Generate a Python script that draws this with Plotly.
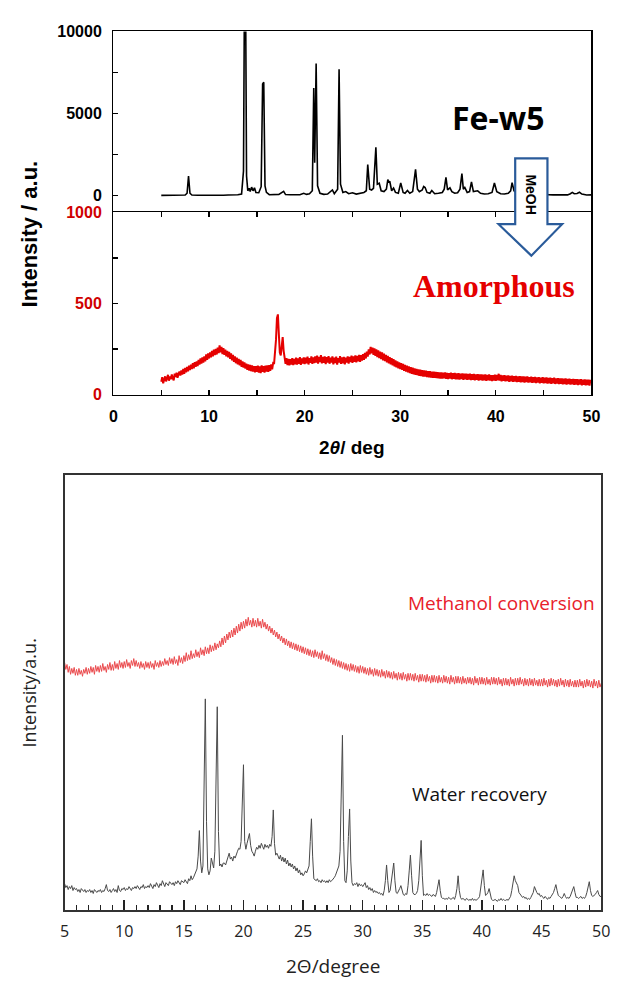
import plotly.graph_objects as go

W, H = 619, 987


def px(x):
    return x / W


def py(y):
    return 1 - y / H


# ---------------- top panel data ----------------
fe_w5_2theta = [5.0, 5.5, 6.0, 6.5, 7.0, 7.5, 7.7, 7.85, 8.0, 8.2, 8.8, 9.5, 10.0, 10.5, 11.0, 11.5, 12.0, 12.5,
                13.0, 13.4, 13.6, 13.68, 13.76, 13.84, 13.92, 14.05, 14.2, 14.3, 14.45, 14.6, 14.75, 14.9, 15.2,
                15.45, 15.6, 15.72, 15.85, 16.0, 16.3, 16.8, 17.3, 17.8, 18.0, 18.5, 19.0, 19.5, 19.9, 20.2, 20.5,
                20.8, 20.95, 21.05, 21.2, 21.35, 21.6, 22.0, 22.4, 22.9, 23.1, 23.45, 23.6, 23.75, 24.0, 24.3,
                24.6, 25.0, 25.4, 25.8, 26.2, 26.45, 26.6, 26.8, 27.0, 27.2, 27.45, 27.6, 27.8, 28.0, 28.3, 28.55,
                28.7, 28.8, 28.9, 29.1, 29.3, 29.5, 29.8, 30.05, 30.3, 30.5, 30.75, 31.0, 31.3, 31.6, 31.8, 32.0,
                32.3, 32.45, 32.6, 32.8, 33.1, 33.3, 33.6, 34.0, 34.4, 34.6, 34.78, 34.95, 35.2, 35.4, 35.7, 36.0,
                36.25, 36.45, 36.6, 36.75, 37.0, 37.25, 37.45, 37.65, 38.1, 38.4, 38.8, 39.2, 39.6, 39.85, 40.1,
                40.5, 40.9, 41.3, 41.55, 41.7, 41.9, 42.1, 42.5, 43.0, 43.5, 44.0, 44.5, 45.0, 45.5, 46.0, 46.5,
                47.0, 47.5, 47.8, 48.0, 48.2, 48.5, 48.75, 49.0, 49.5, 50.0]
fe_w5_counts = [20, 30, 15, 25, 20, 40, 150, 1200, 150, 40, 30, 20, 40, 25, 35, 30, 45, 40,
                60, 100, 1500, 10000, 10000, 10000, 1200, 300, 450, 250, 520, 300, 480, 200, 180,
                550, 6800, 6900, 600, 200, 60, 50, 80, 260, 70, 60, 40, 60, 150, 80, 120,
                300, 6550, 2000, 8050, 600, 150, 80, 100, 350, 120, 400, 7700, 700, 200, 250,
                120, 180, 100, 150, 200, 300, 1900, 400, 350, 450, 2950, 700, 760, 300, 250, 400,
                980, 800, 880, 300, 460, 200, 150, 780, 200, 150, 320, 150, 250, 1600, 400, 250,
                350, 560, 500, 200, 150, 320, 120, 150, 200, 400, 1110, 350, 480, 250, 150, 180,
                400, 1340, 400, 500, 200, 250, 840, 250, 300, 150, 100, 120, 200, 770, 250,
                120, 100, 150, 300, 800, 300, 200, 150, 500, 200, 300, 100, 150, 60, 50, 40,
                60, 50, 120, 200, 120, 130, 210, 100, 40, 50]

amorphous_counts = [
    70, 95, 62, 88, 100, 72, 92, 108, 76, 99,
    84, 110, 90, 78, 115, 96, 120, 92, 112, 126,
    104, 132, 110, 140, 114, 146, 122, 152, 128, 158,
    134, 164, 140, 172, 144, 178, 152, 182, 156, 190,
    164, 198, 170, 204, 176, 210, 182, 220, 190, 226,
    198, 232, 204, 240, 210, 246, 216, 250, 220, 258,
    228, 270, 232, 262, 222, 254, 218, 246, 210, 240,
    204, 234, 196, 226, 188, 218, 180, 210, 172, 202,
    166, 196, 160, 190, 152, 182, 148, 176, 142, 170,
    136, 166, 132, 162, 128, 160, 126, 156, 122, 156,
    124, 158, 120, 154, 118, 160, 124, 156, 120, 158,
    126, 160, 124, 162, 130, 166, 138, 172, 168, 220,
    300, 420, 440, 330, 230, 215, 260, 315, 240, 195,
    168, 200, 162, 196, 160, 194, 165, 200, 161, 196,
    166, 202, 164, 199, 168, 205, 163, 198, 170, 204,
    167, 203, 171, 208, 165, 200, 174, 210, 168, 204,
    172, 209, 175, 213, 170, 206, 178, 216, 171, 207,
    174, 210, 167, 205, 176, 211, 169, 203, 175, 209,
    166, 202, 173, 208, 164, 200, 175, 211, 168, 204,
    171, 207, 165, 203, 176, 210, 170, 206, 178, 213,
    174, 209, 180, 215, 176, 212, 183, 218, 179, 216,
    186, 222, 190, 228, 198, 235, 208, 248, 220, 262,
    226, 258, 218, 254, 212, 248, 206, 242, 200, 236,
    195, 231, 188, 224, 183, 218, 177, 212, 171, 206,
    166, 200, 160, 194, 154, 188, 149, 182, 144, 176,
    140, 172, 135, 168, 130, 163, 126, 158, 122, 154,
    118, 150, 114, 147, 111, 143, 108, 141, 106, 138,
    103, 136, 101, 134, 99, 132, 98, 131, 96, 129,
    94, 128, 93, 126, 91, 125, 92, 124, 90, 123,
    89, 122, 88, 121, 87, 120, 89, 122, 86, 119,
    85, 118, 87, 120, 84, 117, 86, 119, 83, 116,
    84, 117, 82, 115, 85, 116, 81, 114, 83, 115,
    80, 113, 82, 114, 79, 112, 81, 113, 78, 111,
    80, 112, 77, 110, 79, 111, 76, 109, 78, 110,
    75, 108, 78, 110, 76, 107, 74, 106, 77, 109,
    75, 107, 78, 114, 76, 108, 73, 105, 75, 106,
    72, 104, 74, 105, 70, 102, 73, 104, 69, 101,
    71, 102, 68, 100, 70, 101, 67, 99, 69, 100,
    66, 98, 68, 99, 65, 96, 67, 98, 64, 95,
    66, 97, 63, 94, 65, 96, 62, 93, 64, 95,
    61, 92, 63, 94, 60, 91, 62, 93, 59, 90,
    61, 92, 58, 89, 60, 90, 57, 88, 59, 89,
    56, 87, 58, 88, 55, 86, 57, 87, 54, 85,
    56, 86, 53, 84, 55, 85, 52, 83, 54, 84,
    51, 82, 53, 83, 50, 81, 52, 82, 49, 80,
    64]
amorphous_2theta = [round(5.0 + 0.1 * i, 1) for i in range(len(amorphous_counts))]

top_x_tickvals = [0, 5, 10, 15, 20, 25, 30, 35, 40, 45, 50]
top_x_ticktext = ["0", "", "10", "", "20", "", "30", "", "40", "", "50"]
fe_y_tickvals = [0, 2500, 5000, 7500, 10000]
fe_y_ticktext = ["0", "", "5000", "", "10000"]
am_y_tickvals = [0, 250, 500, 750, 1000]
am_y_ticktext = ["0", "", "500", "", "1000"]

# ---------------- bottom panel data ----------------
methanol_intensity = [
    252, 245, 250, 242, 248, 240, 246, 241, 247, 239,
    245, 239, 246, 240, 244, 238, 245, 241, 247, 240,
    246, 241, 248, 242, 247, 240, 249, 243, 248, 242,
    249, 243, 251, 244, 248, 242, 250, 245, 252, 244,
    250, 244, 253, 246, 251, 245, 254, 247, 252, 246,
    253, 247, 255, 248, 252, 246, 254, 249, 256, 248,
    254, 248, 252, 246, 253, 247, 251, 245, 253, 247,
    252, 246, 253, 247, 251, 245, 254, 248, 252, 247,
    254, 248, 253, 249, 256, 250, 254, 249, 257, 251,
    256, 250, 258, 251, 255, 249, 259, 252, 257, 251,
    259, 253, 262, 254, 260, 255, 264, 256, 261, 257,
    265, 258, 263, 257, 267, 260, 265, 259, 268, 261,
    267, 261, 270, 263, 269, 264, 272, 265, 271, 267,
    274, 268, 277, 270, 279, 272, 281, 275, 283, 277,
    285, 278, 287, 280, 289, 282, 291, 284, 293, 286,
    294, 287, 296, 289, 298, 290, 295, 288, 297, 289,
    295, 288, 297, 289, 294, 287, 296, 288, 293, 286,
    291, 284, 289, 282, 287, 280, 285, 278, 283, 276,
    281, 274, 279, 272, 277, 270, 276, 269, 274, 267,
    273, 266, 272, 265, 271, 264, 270, 263, 269, 262,
    268, 261, 267, 260, 266, 259, 265, 258, 264, 257,
    265, 258, 263, 256, 262, 255, 264, 256, 261, 254,
    260, 253, 259, 252, 257, 250, 256, 249, 255, 248,
    254, 247, 253, 246, 252, 245, 251, 244, 250, 243,
    251, 244, 250, 243, 249, 242, 248, 241, 249, 242,
    248, 241, 247, 240, 246, 239, 247, 240, 245, 238,
    246, 239, 245, 238, 244, 237, 245, 238, 243, 236,
    244, 237, 243, 236, 242, 235, 243, 236, 241, 234,
    242, 235, 241, 234, 242, 235, 240, 233, 241, 234,
    241, 234, 240, 233, 241, 234, 239, 232, 240, 233,
    240, 233, 239, 232, 240, 233, 238, 231, 239, 232,
    239, 232, 238, 231, 239, 232, 237, 231, 239, 232,
    238, 231, 237, 230, 239, 232, 237, 230, 238, 231,
    238, 231, 237, 230, 238, 231, 236, 230, 237, 231,
    237, 230, 236, 229, 238, 231, 236, 229, 237, 230,
    237, 230, 236, 229, 237, 230, 235, 229, 237, 230,
    237, 230, 236, 229, 237, 230, 235, 228, 236, 229,
    236, 229, 235, 228, 237, 230, 235, 228, 236, 229,
    236, 229, 237, 230, 235, 228, 236, 229, 235, 228,
    236, 229, 235, 228, 236, 229, 234, 228, 235, 228,
    235, 228, 236, 229, 234, 227, 235, 228, 236, 229,
    235, 228, 234, 227, 235, 228, 236, 229, 234, 227,
    235, 228, 234, 227, 235, 228, 233, 227, 234, 227,
    234, 227, 235, 228, 233, 226, 234, 227, 235, 228,
    234, 227, 233, 226, 235, 228, 233, 226, 234, 227,
    231]

water_intensity = [
    27, 23, 25, 21, 24, 22, 25, 20, 23, 21,
    22, 19, 21, 18, 22, 20, 19, 21, 18, 20,
    19, 21, 18, 20, 17, 21, 19, 18, 20, 19,
    21, 18, 20, 19, 22, 26, 20, 19, 21, 18,
    20, 22, 19, 21, 18, 25, 20, 19, 22, 21,
    23, 20, 22, 21, 24, 22, 20, 23, 22, 24,
    22, 25, 23, 21, 24, 23, 26, 22, 24, 23,
    25, 23, 27, 24, 22, 26, 24, 28, 25, 23,
    27, 25, 30, 26, 24, 28, 26, 25, 29, 27,
    26, 28, 25, 29, 27, 30, 28, 26, 30, 29,
    28, 31, 29, 27, 32, 30, 35, 31, 33, 36,
    38, 42, 55, 81, 50, 38, 45, 120, 215, 90,
    42, 36, 40, 53, 48, 43, 60, 130, 207, 80,
    45, 47, 44, 48, 48, 46, 50, 52, 58, 52,
    54, 50, 55, 53, 58, 60, 63, 62, 70, 100,
    148, 70, 62, 68, 72, 78, 66, 60, 58, 55,
    60, 64, 62, 66, 63, 68, 65, 62, 67, 64,
    66, 63, 67, 65, 75, 102, 68, 56, 58, 55,
    52, 56, 50, 54, 49, 53, 47, 51, 45, 48,
    44, 47, 42, 45, 40, 43, 38, 41, 36, 38,
    35, 37, 40, 38, 41, 45, 70, 93, 55, 32,
    31, 30, 32, 29, 30, 28, 31, 29, 30, 28,
    30, 28, 31, 29, 30, 31, 33, 35, 38, 41,
    45, 60, 120, 178, 70, 30, 28, 40, 75, 103,
    50, 28, 25, 27, 26, 28, 24, 27, 25, 26,
    24, 26, 28, 23, 25, 21, 23, 20, 22, 18,
    20, 18, 19, 17, 18, 16, 17, 15, 20, 30,
    46, 30, 18, 20, 30, 40, 48, 30, 18, 17,
    19, 22, 25, 20, 16, 15, 17, 16, 25, 40,
    56, 35, 18, 16, 16, 17, 20, 30, 50, 71,
    35, 15, 16, 15, 17, 15, 16, 15, 14, 16,
    15, 14, 18, 24, 31, 20, 13, 12, 12, 11,
    12, 11, 13, 12, 11, 12, 13, 11, 15, 22,
    35, 20, 13, 11, 12, 11, 10, 12, 11, 10,
    11, 10, 12, 10, 11, 10, 11, 12, 14, 22,
    35, 41, 25, 15, 16, 18, 22, 15, 11, 10,
    10, 11, 10, 9, 11, 10, 12, 10, 11, 10,
    10, 11, 10, 12, 14, 20, 28, 35, 30, 28,
    25, 18, 16, 15, 13, 14, 12, 13, 11, 12,
    11, 13, 15, 18, 24, 20, 18, 16, 17, 14,
    15, 13, 12, 14, 12, 11, 13, 12, 14, 16,
    18, 22, 26, 20, 15, 14, 13, 12, 14, 17,
    14, 12, 13, 12, 14, 18, 22, 24, 18, 13,
    13, 12, 13, 14, 12, 13, 12, 14, 18, 24,
    29, 20, 15, 14, 15, 16, 18, 20, 16, 14,
    14]
bottom_2theta = [round(5.0 + 0.1 * i, 1) for i in range(len(water_intensity))]
bottom_x_tickvals = [5, 10, 15, 20, 25, 30, 35, 40, 45, 50]

# ---------------- figure ----------------
fig = go.Figure()

fig.add_trace(go.Scatter(x=fe_w5_2theta, y=fe_w5_counts, mode="lines",
                         line=dict(color="black", width=1.6), xaxis="x2", yaxis="y",
                         showlegend=False, hoverinfo="skip"))
fig.add_trace(go.Scatter(x=amorphous_2theta, y=amorphous_counts, mode="lines",
                         line=dict(color="#E50000", width=2), xaxis="x", yaxis="y2",
                         showlegend=False, hoverinfo="skip"))
fig.add_trace(go.Scatter(x=bottom_2theta, y=methanol_intensity, mode="lines",
                         line=dict(color="#EA4A4D", width=1), xaxis="x3", yaxis="y3",
                         showlegend=False, hoverinfo="skip"))
fig.add_trace(go.Scatter(x=bottom_2theta, y=water_intensity, mode="lines",
                         line=dict(color="#4A4A4A", width=1), xaxis="x3", yaxis="y3",
                         showlegend=False, hoverinfo="skip"))

AR = "Liberation Sans"
OS = "Open Sans"
top_dom_x = [px(111), px(600)]
bold_tick = dict(family=AR, size=16, color="black", weight="bold")

fig.update_layout(
    width=W, height=H, autosize=False,
    margin=dict(l=0, r=0, t=0, b=0),
    paper_bgcolor="white", plot_bgcolor="rgba(0,0,0,0)",
    xaxis=dict(domain=top_dom_x, anchor="y2", range=[0, 50],
               tickvals=top_x_tickvals, ticktext=top_x_ticktext,
               ticks="inside", ticklen=5, tickwidth=1.3, tickcolor="black",
               showline=True, linecolor="black", linewidth=1.5, mirror="ticks",
               showgrid=False, zeroline=False, tickfont=bold_tick, ticklabelstandoff=7),
    xaxis2=dict(domain=top_dom_x, anchor="y", side="top", range=[0, 50], showticklabels=False,
                ticks="", showline=True, linecolor="black", linewidth=1.5, mirror=False,
                showgrid=False, zeroline=False),
    yaxis=dict(domain=[py(208), py(23.8)], anchor="x2", range=[-1017, 10000],
               tickvals=fe_y_tickvals, ticktext=fe_y_ticktext,
               ticks="inside", ticklen=5, tickwidth=1.3, tickcolor="black",
               showline=True, linecolor="black", linewidth=1.5, mirror=True,
               showgrid=False, zeroline=False, tickfont=bold_tick, ticklabelstandoff=7),
    yaxis2=dict(domain=[py(393.3), py(208)], anchor="x", range=[0, 1000],
                tickvals=am_y_tickvals, ticktext=am_y_ticktext,
                ticks="inside", ticklen=5, tickwidth=1.3, tickcolor="black",
                showline=True, linecolor="black", linewidth=1.5, mirror=True,
                showgrid=False, zeroline=False,
                tickfont=dict(family=AR, size=16, color="#D00000", weight="bold"),
                ticklabelstandoff=7),
    xaxis3=dict(domain=[px(61), px(610)], anchor="y3", range=[5, 50],
                tickvals=bottom_x_tickvals, ticks="inside", ticklen=10, tickwidth=1.5,
                tickcolor="#222",
                minor=dict(dtick=1, tick0=5, ticks="inside", ticklen=5, tickwidth=1.2,
                           tickcolor="#222"),
                showline=True, linecolor="#333", linewidth=1.8, mirror=True,
                showgrid=False, zeroline=False,
                tickfont=dict(family=OS, size=16, color="#222"), ticklabelstandoff=6),
    yaxis3=dict(domain=[py(918), py(475)], anchor="x3", range=[0, 443],
                showticklabels=False, ticks="", showline=True, linecolor="#333",
                linewidth=1.8, mirror=True, showgrid=False, zeroline=False),
)

annotations = [
    dict(text="Intensity / a.u.", x=px(25), y=py(230), textangle=-90,
         font=dict(family=AR, size=22, color="black", weight="bold")),
    dict(text="2<i>θ</i>/ deg", x=px(355.5), y=py(447),
         font=dict(family=AR, size=19, color="black", weight="bold")),
    dict(text="Fe-w5", x=px(504), y=py(111),
         font=dict(family=OS, size=32, color="black", weight="bold")),
    dict(text="Amorphous", x=px(500), y=py(283),
         font=dict(family="Liberation Serif", size=32, color="#E50000", weight="bold")),
    dict(text="MeOH", x=px(538.5), y=py(190), textangle=90,
         font=dict(family=AR, size=14, color="black", weight="bold")),
    dict(text="Methanol conversion", x=px(508), y=py(605),
         font=dict(family=OS, size=19, color="#E8202A")),
    dict(text="Water recovery", x=px(485), y=py(800),
         font=dict(family=OS, size=19, color="#111")),
    dict(text="2Θ/degree", x=px(335.5), y=py(975),
         font=dict(family=OS, size=19, color="#222")),
    dict(text="Intensity/a.u.", x=px(25), y=py(697), textangle=-90,
         font=dict(family=OS, size=18, color="#222")),
]
for a in annotations:
    a.update(xref="paper", yref="paper", showarrow=False, xanchor="center", yanchor="middle")
fig.update_layout(annotations=annotations)

# MeOH arrow (decoration)
arrow_pts = [(522, 153), (555, 153), (555, 220), (570, 220), (538.5, 252), (505, 220), (522, 220)]
path = "M " + " L ".join(f"{px(x):.5f},{py(y):.5f}" for x, y in arrow_pts) + " Z"
fig.add_shape(type="path", path=path, xref="paper", yref="paper",
              fillcolor="white", line=dict(color="#2A5B9A", width=2.2), layer="above")

fig.write_html("out.html",
               config={"displayModeBar": False, "staticPlot": True},
               post_script="document.body.style.margin='0';document.body.style.padding='0';"
                           "document.documentElement.style.overflow='hidden';")
